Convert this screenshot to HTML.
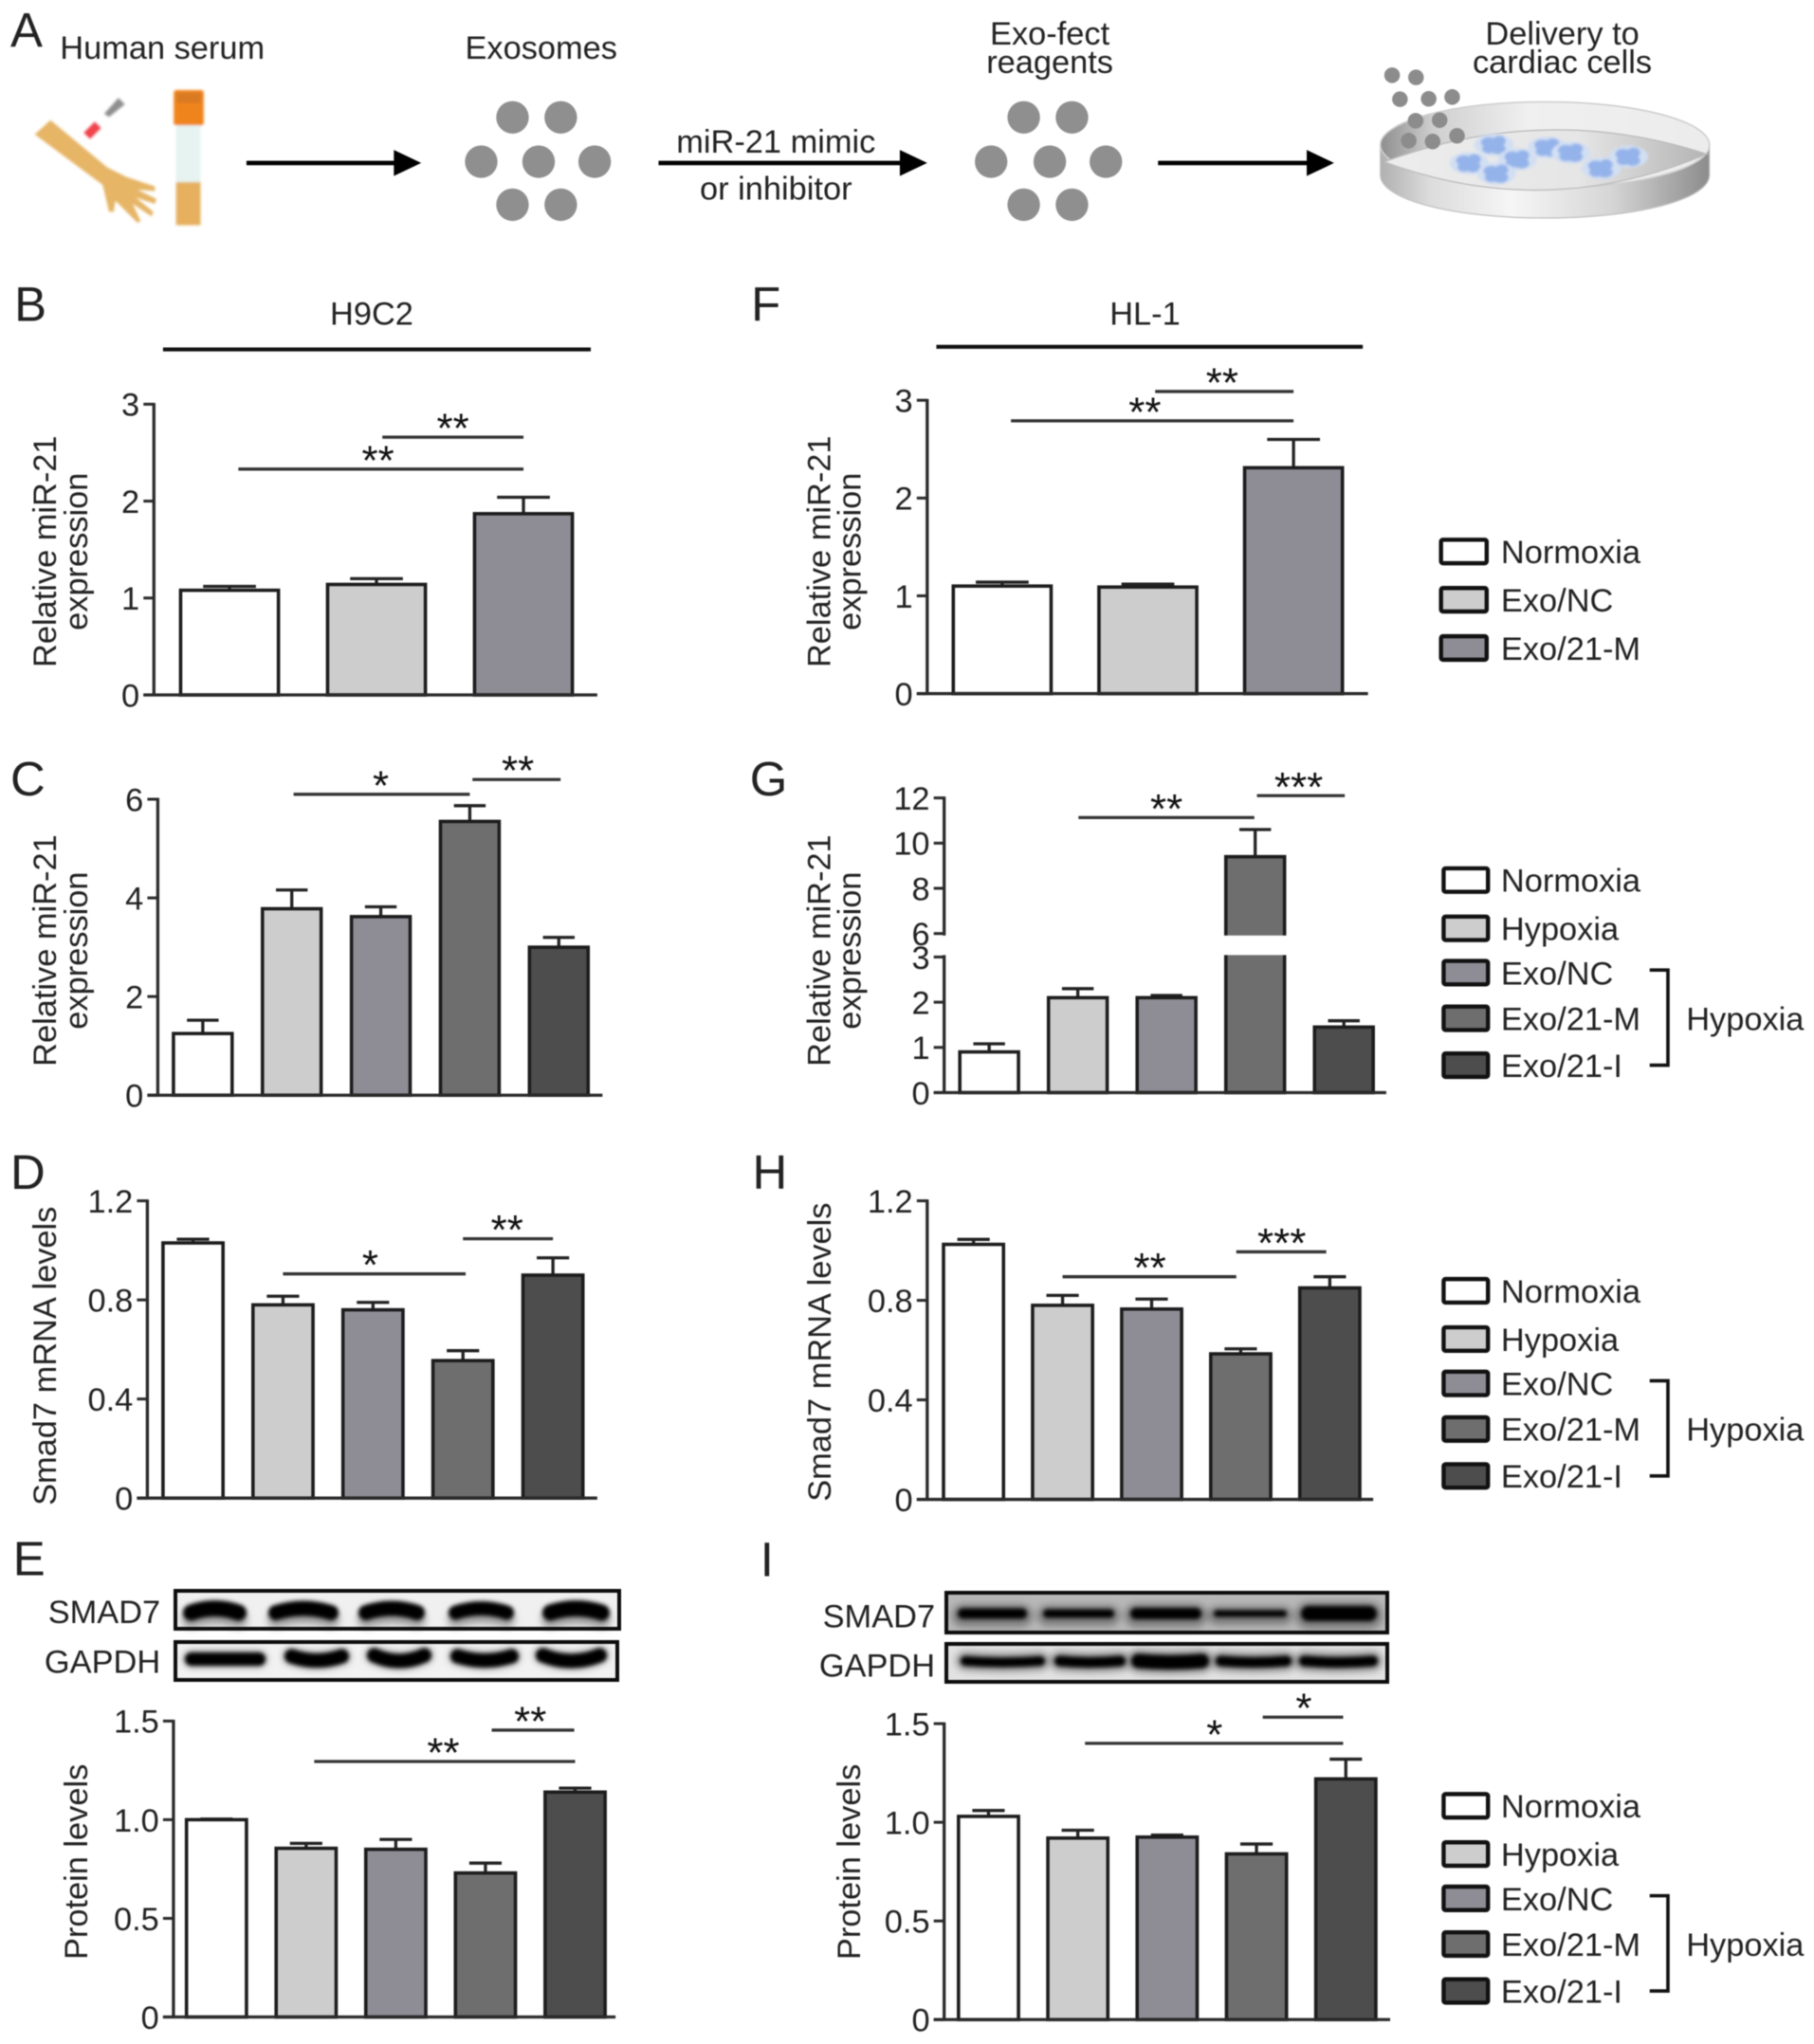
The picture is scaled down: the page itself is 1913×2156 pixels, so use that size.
<!DOCTYPE html>
<html lang="en">
<head>
<meta charset="utf-8">
<title>Exosome miR-21 figure</title>
<style>
html,body{margin:0;padding:0;background:#fff;}
svg{display:block;filter:blur(0.6px);}
text{font-family:"Liberation Sans",Arial,sans-serif;fill:#222;font-size:25px;}
</style>
</head>
<body>
<svg id="fig" xmlns="http://www.w3.org/2000/svg" width="1913" height="2156" viewBox="0 0 1391 1567.7">
<defs>
<linearGradient id="dishSide" x1="0" x2="1" y1="0" y2="0">
<stop offset="0" stop-color="#b0b0b0"/><stop offset="0.15" stop-color="#dcdcdc"/><stop offset="0.4" stop-color="#f6f6f6"/><stop offset="0.7" stop-color="#d6d6d6"/><stop offset="1" stop-color="#8c8c8c"/>
</linearGradient>
<linearGradient id="dishBack" x1="0" x2="1" y1="0" y2="0">
<stop offset="0" stop-color="#8e8e8e"/><stop offset="0.16" stop-color="#cfcfcf"/><stop offset="0.45" stop-color="#f0f0f0"/><stop offset="1" stop-color="#ececec"/>
</linearGradient>
<linearGradient id="dishFloor" x1="0" x2="1" y1="0" y2="0">
<stop offset="0" stop-color="#ededed"/><stop offset="0.6" stop-color="#e6e6e6"/><stop offset="1" stop-color="#b4b4b4"/>
</linearGradient>
<filter id="bandBlur" filterUnits="userSpaceOnUse" x="0" y="1600" width="1913" height="300"><feGaussianBlur stdDeviation="2.2"/></filter>
<filter id="haloBlur" filterUnits="userSpaceOnUse" x="0" y="1600" width="1913" height="300"><feGaussianBlur stdDeviation="4"/></filter>
<filter id="softBlur" x="-20%" y="-20%" width="140%" height="140%"><feGaussianBlur stdDeviation="0.9"/></filter>
</defs>
<rect x="0" y="0" width="1391" height="1567.7" fill="#fff"/>

<g id="schematic">
<text x="46" y="45">Human serum</text>
<text x="415" y="45" text-anchor="middle">Exosomes</text>
<text x="805" y="34" text-anchor="middle">Exo-fect</text>
<text x="805" y="56" text-anchor="middle">reagents</text>
<text x="1198" y="34" text-anchor="middle">Delivery to</text>
<text x="1198" y="56" text-anchor="middle">cardiac cells</text>
<text x="595" y="117" text-anchor="middle">miR-21 mimic</text>
<text x="595" y="153" text-anchor="middle">or inhibitor</text>

<g transform="scale(1.0014)">
<g filter="url(#softBlur)">
<path d="M26.6 102.9 L38.7 92 L82.3 128.3 L96.8 135.5 L118.6 142.8 L118.6 146.4 L105.3 145.2 L119.8 152.5 L118.6 156.1 L104 151.3 L117.4 162.2 L116.1 165.8 L101.6 156.1 L107.7 169.4 L105.3 170.6 L88.3 153.7 L87.1 162.2 L83.5 162.2 L78.6 141.6 Z" fill="#e6b566"/>
<path d="M64.1 101.7 L72.6 93.2 L77.4 98 L69 106.5 Z" fill="#f0444c"/>
<path d="M79.8 87.1 L90.7 75 L95.6 79.9 L83.5 89.6 Z" fill="#8f8f8f"/>
</g>
<g filter="url(#softBlur)">
<rect x="133" y="69" width="23" height="27" rx="2" fill="#f0841a"/>
<rect x="135" y="71" width="19" height="8" fill="#d97a20"/>
<rect x="134.8" y="96" width="18.8" height="43.5" fill="#e6f3f1"/>
<rect x="134.8" y="139.5" width="18.8" height="33" fill="#e6b05e"/>
</g>
</g>

<g>
<line x1="189" y1="125" x2="304" y2="125" stroke="#000" stroke-width="3.4"/>
<path d="M302 115 L323 125 L302 135 Z" fill="#000"/>
</g>
<g>
<line x1="505" y1="125" x2="692" y2="125" stroke="#000" stroke-width="3.4"/>
<path d="M690 115 L711 125 L690 135 Z" fill="#000"/>
</g>
<g>
<line x1="888" y1="125" x2="1004" y2="125" stroke="#000" stroke-width="3.4"/>
<path d="M1002 115 L1023 125 L1002 135 Z" fill="#000"/>
</g>

<g fill="#8f8f8f">
<circle cx="393" cy="90" r="12.5"/><circle cx="430" cy="90" r="12.5"/>
<circle cx="369" cy="124" r="12.5"/><circle cx="413" cy="124" r="12.5"/><circle cx="456" cy="124" r="12.5"/>
<circle cx="393" cy="157" r="12.5"/><circle cx="430" cy="157" r="12.5"/>
</g>
<g fill="#8f8f8f">
<circle cx="785" cy="90" r="12.5"/><circle cx="822" cy="90" r="12.5"/>
<circle cx="760" cy="124" r="12.5"/><circle cx="805" cy="124" r="12.5"/><circle cx="848" cy="124" r="12.5"/>
<circle cx="785" cy="157" r="12.5"/><circle cx="822" cy="157" r="12.5"/>
</g>

<g transform="scale(1.0014)">
<g>
<path d="M1057 111 L1057 134 C1057 153 1113 167 1183 167 C1253 167 1309 153 1309 134 L1309 111 Z" fill="url(#dishSide)" stroke="#c4c4c4" stroke-width="1"/>
<ellipse cx="1183" cy="111" rx="126" ry="33" fill="url(#dishBack)" stroke="#cfcfcf" stroke-width="1.2"/>
<path d="M1060 124 Q1183 78 1307 118 Q1183 170 1060 124 Z" fill="url(#dishFloor)" stroke="#bdbdbd" stroke-width="1"/>
<g id="cells" filter="url(#softBlur)"></g>
</g>
<g fill="#8c8c8c">
<circle cx="1066" cy="57.6" r="6"/><circle cx="1084.3" cy="59.3" r="6"/>
<circle cx="1072" cy="76" r="6"/><circle cx="1094" cy="75.7" r="6"/><circle cx="1112" cy="74.3" r="6"/>
<circle cx="1084" cy="92.5" r="6"/><circle cx="1102.4" cy="92" r="6"/>
<circle cx="1078.7" cy="107.7" r="6"/><circle cx="1097" cy="108.4" r="6"/><circle cx="1115.7" cy="104" r="6"/>
</g>
</g>
</g>

<g>
<text x="8" y="36" style="font-size:37px">A</text>
<text x="11" y="246" style="font-size:37px">B</text>
<text x="8" y="610" style="font-size:37px">C</text>
<text x="8" y="912" style="font-size:37px">D</text>
<text x="10" y="1208" style="font-size:37px">E</text>
<text x="576" y="246" style="font-size:37px">F</text>
<text x="575" y="610" style="font-size:37px">G</text>
<text x="577" y="912" style="font-size:37px">H</text>
<text x="583" y="1209" style="font-size:37px">I</text>
</g>

<g>
<text x="285" y="249" text-anchor="middle">H9C2</text>
<line x1="125" y1="268" x2="453" y2="268" stroke="#111" stroke-width="3"/>
</g>
<g>
<text x="878" y="249" text-anchor="middle">HL-1</text>
<line x1="718" y1="266" x2="1045" y2="266" stroke="#111" stroke-width="3"/>
</g>

<text x="123" y="1245" text-anchor="end">SMAD7</text>
<text x="123" y="1283" text-anchor="end">GAPDH</text>
<text x="717" y="1248" text-anchor="end">SMAD7</text>
<text x="717" y="1286" text-anchor="end">GAPDH</text>
<g id="blots" transform="scale(0.72713)"></g>

<g id="charts"></g>
<g id="legends"></g>
</svg>

<script>
// ---- Categories ----
const categoriesThree = ['Normoxia', 'Exo/NC', 'Exo/21-M'];
const categoriesFive = ['Normoxia', 'Hypoxia', 'Exo/NC', 'Exo/21-M', 'Exo/21-I'];
const hypoxiaGroupLabel = 'Hypoxia';

// ---- Series values and error bars ----
const valuesB = [1.08, 1.14, 1.87];
const errorsB = [0.04, 0.06, 0.17];
const valuesF = [1.10, 1.09, 2.31];
const errorsF = [0.04, 0.03, 0.29];
const valuesC = [1.25, 3.78, 3.62, 5.55, 3.00];
const errorsC = [0.27, 0.38, 0.20, 0.32, 0.20];
const valuesG = [0.90, 2.10, 2.10, 9.40, 1.45];
const errorsG = [0.18, 0.20, 0.05, 1.20, 0.14];
const valuesD = [1.03, 0.78, 0.76, 0.555, 0.90];
const errorsD = [0.015, 0.035, 0.03, 0.04, 0.07];
const valuesH = [1.025, 0.78, 0.765, 0.585, 0.85];
const errorsH = [0.02, 0.04, 0.04, 0.02, 0.045];
const valuesE = [1.00, 0.855, 0.85, 0.73, 1.14];
const errorsE = [0.003, 0.025, 0.05, 0.05, 0.02];
const valuesI = [1.03, 0.92, 0.925, 0.84, 1.22];
const errorsI = [0.03, 0.04, 0.01, 0.05, 0.10];

// ---- Tick labels ----
const ticksExpression3 = [0, 1, 2, 3];
const ticksExpression6 = [0, 2, 4, 6];
const ticksBroken = [0, 1, 2, 3, 6, 8, 10, 12];
const ticksMrna = [0, 0.4, 0.8, 1.2];
const ticksMrnaLabels = ['0', '0.4', '0.8', '1.2'];
const ticksProtein = [0, 0.5, 1.0, 1.5];
const ticksProteinLabels = ['0', '0.5', '1.0', '1.5'];

// ---- Significance brackets: [from category, to category, axis value, stars, star category] ----
const sigB = [[0.06, 2, 2.33, '**', 1.01], [1.04, 2, 2.66, '**', 1.52]];
const sigF = [[0.06, 2, 2.79, '**', 0.98], [1.05, 2, 3.09, '**', 1.51]];
const sigC = [[1.02, 3, 6.10, '*', 2.0], [3.03, 4.02, 6.40, '**', 3.54]];
const sigG = [[1.007, 2.99, 11.13, '**', 2.0], [3.02, 4.01, 12.1, '***', 3.49]];
const sigD = [[1.0, 3.03, 0.905, '*', 1.97], [3.0, 4.0, 1.047, '**', 3.49]];
const sigH = [[1.0, 2.95, 0.895, '**', 1.98], [2.95, 3.96, 0.995, '***', 3.46]];
const sigE = [[1.09, 4.0, 1.295, '**', 2.53], [3.07, 3.99, 1.454, '**', 3.5]];
const sigI = [[1.08, 3.97, 1.40, '*', 2.53], [3.07, 3.97, 1.533, '*', 3.53]];

const fillsThree = ['#ffffff', '#cdcdcd', '#8e8d96'];
const fillsFive = ['#ffffff', '#cdcdcd', '#8e8d96', '#6e6e6e', '#4d4d4d'];
const NS = 'http://www.w3.org/2000/svg';

function mk(parent, tag, attrs, txt) {
  const el = document.createElementNS(NS, tag);
  for (const k in attrs) el.setAttribute(k, attrs[k]);
  if (txt !== undefined) el.textContent = txt;
  parent.appendChild(el);
  return el;
}

function linearY(domainMax, yBottom, yTop) {
  return v => yBottom - (v / domainMax) * (yBottom - yTop);
}
function brokenY(lowMax, upLow, upHigh, yBottom, yLowTop, yUpLow, yUpTop) {
  return v => v <= lowMax
    ? yBottom - (v / lowMax) * (yBottom - yLowTop)
    : yUpLow - ((v - upLow) / (upHigh - upLow)) * (yUpLow - yUpTop);
}

// ---- Decorative cardiac cell blobs in the dish ----
const cellSpots = [[1125, 125], [1144, 111], [1162, 122], [1146, 133], [1185, 113], [1203, 117], [1226, 129], [1247, 120]];
const cellLobes = [[-4, -2, 6, 4], [4, -3, 5, 4], [3, 3, 6, 4], [-4, 3, 5, 3.5], [0, 0, 5, 4]];
const cellsRoot = document.getElementById('cells');
cellSpots.forEach(s => {
  const cell = mk(cellsRoot, 'g', {});
  
  
  mk(cell, 'ellipse', { cx: s[0], cy: s[1], rx: 15, ry: 8.5, fill: '#d2dff3' });
  cellLobes.forEach(l => {
    mk(cell, 'ellipse', { cx: s[0] + l[0], cy: s[1] + l[1], rx: l[2], ry: l[3], fill: '#94b3ea' });
  });
});

// ---- Western blot drawing (decorative image bands, not chart data) ----
const blotStrips = [
  { name: 'blot-smad7-e', box: [185, 1678, 468, 40], bg: '#f0f0f0', halo: '#999', haloDy: 7, haloExtra: 2,
    bands: [[193, 260, 17, 3], [283, 357, 16, 3], [378, 448, 16, 3], [473, 542, 15, 3], [572, 643, 17, 3]], yc: 1698 },
  { name: 'blot-gapdh-e', box: [185, 1732, 466, 40], bg: '#f2f2f2', halo: '#aaa', haloDy: 0, haloExtra: 4,
    bands: [[195, 280, 14, 0], [300, 368, 15, -3], [387, 455, 15, -4], [475, 547, 15, -3], [565, 640, 15, -4]], yc: 1750 },
  { name: 'blot-smad7-i', box: [998, 1680, 465, 42], bg: '#b8b8b8', halo: '#777', haloDy: 2, haloExtra: 12,
    bands: [[1010, 1083, 11, 0], [1100, 1175, 9, 0], [1192, 1267, 12, 0], [1280, 1357, 7, 0], [1372, 1452, 16, 0]], yc: 1702 },
  { name: 'blot-gapdh-i', box: [998, 1734, 465, 40], bg: '#e2e2e2', halo: '#888', haloDy: 0, haloExtra: 9,
    bands: [[1013, 1102, 10, -1], [1112, 1187, 11, -1], [1193, 1275, 15, -1], [1282, 1362, 11, -1], [1370, 1453, 11, -1]], yc: 1753 }
];
const blotsRoot = document.getElementById('blots');
blotStrips.forEach(s => {
  const g = mk(blotsRoot, 'g', {});
  
  
  mk(g, 'rect', { x: s.box[0], y: s.box[1], width: s.box[2], height: s.box[3], fill: s.bg });
  const halos = mk(g, 'g', { filter: 'url(#haloBlur)' });
  const bands = mk(g, 'g', { filter: 'url(#bandBlur)' });
  s.bands.forEach(b => {
    const p = (dy) => 'M' + (b[0] + b[2] / 2) + ' ' + (s.yc + b[3] + dy) + ' Q' + ((b[0] + b[1]) / 2) + ' ' + (s.yc - b[3] * 2 + dy) + ' ' + (b[1] - b[2] / 2) + ' ' + (s.yc + b[3] + dy);
    mk(halos, 'path', { d: p(s.haloDy), fill: 'none', stroke: s.halo, 'stroke-width': b[2] + s.haloExtra, 'stroke-linecap': 'round' });
    const band = mk(bands, 'path', { d: p(0), fill: 'none', stroke: '#060606', 'stroke-width': b[2], 'stroke-linecap': 'round' });
    
    
  });
  mk(g, 'rect', { x: s.box[0], y: s.box[1], width: s.box[2], height: s.box[3], fill: 'none', stroke: '#0c0c0c', 'stroke-width': 4 });
});

const chartConfigs = [
  { id: 'b', cats: categoriesThree, fills: fillsThree, vals: valuesB, errs: errorsB, ticks: ticksExpression3, tickLabels: ticksExpression3,
    sig: sigB, axisX: 118, xEnd: 458, first: 176, step: 112.7, bw: 75,
    y: linearY(3, 533, 310), top: 3, titleLines: ['Relative miR-21', 'expression'], titleX: [43, 67], titleY: 423 },
  { id: 'f', cats: categoriesThree, fills: fillsThree, vals: valuesF, errs: errorsF, ticks: ticksExpression3, tickLabels: ticksExpression3,
    sig: sigF, axisX: 711, xEnd: 1049, first: 768.5, step: 111.7, bw: 75,
    y: linearY(3, 532, 307), top: 3, titleLines: ['Relative miR-21', 'expression'], titleX: [636.5, 660], titleY: 423 },
  { id: 'c', cats: categoriesFive, fills: fillsFive, vals: valuesC, errs: errorsC, ticks: ticksExpression6, tickLabels: ticksExpression6,
    sig: sigC, axisX: 121, xEnd: 462, first: 155.5, step: 68.25, bw: 45,
    y: linearY(6, 840, 613), top: 6, titleLines: ['Relative miR-21', 'expression'], titleX: [43, 67], titleY: 729 },
  { id: 'g', cats: categoriesFive, fills: fillsFive, vals: valuesG, errs: errorsG, ticks: ticksBroken, tickLabels: ticksBroken,
    sig: sigG, axisX: 724, xEnd: 1063, first: 758.5, step: 68, bw: 45,
    y: brokenY(3, 6, 12, 838, 734, 716, 612), top: 12, broken: [3, 6], titleLines: ['Relative miR-21', 'expression'], titleX: [636.5, 660], titleY: 729 },
  { id: 'd', cats: categoriesFive, fills: fillsFive, vals: valuesD, errs: errorsD, ticks: ticksMrna, tickLabels: ticksMrnaLabels,
    sig: sigD, axisX: 113, xEnd: 458, first: 148, step: 69, bw: 46,
    y: linearY(1.2, 1149, 921), top: 1.2, titleLines: ['Smad7 mRNA levels'], titleX: [43], titleY: 1040 },
  { id: 'h', cats: categoriesFive, fills: fillsFive, vals: valuesH, errs: errorsH, ticks: ticksMrna, tickLabels: ticksMrnaLabels,
    sig: sigH, axisX: 711, xEnd: 1053, first: 746.5, step: 68.3, bw: 46,
    y: linearY(1.2, 1150, 921), top: 1.2, titleLines: ['Smad7 mRNA levels'], titleX: [637], titleY: 1037 },
  { id: 'e', cats: categoriesFive, fills: fillsFive, vals: valuesE, errs: errorsE, ticks: ticksProtein, tickLabels: ticksProteinLabels,
    sig: sigE, axisX: 133, xEnd: 472, first: 166, step: 68.75, bw: 46,
    y: linearY(1.5, 1547, 1320), top: 1.5, titleLines: ['Protein levels'], titleX: [67], titleY: 1428 },
  { id: 'i', cats: categoriesFive, fills: fillsFive, vals: valuesI, errs: errorsI, ticks: ticksProtein, tickLabels: ticksProteinLabels,
    sig: sigI, axisX: 724, xEnd: 1066, first: 758, step: 68.5, bw: 46,
    y: linearY(1.5, 1549, 1322), top: 1.5, titleLines: ['Protein levels'], titleX: [659.5], titleY: 1428 }
];

const chartsRoot = document.getElementById('charts');
chartConfigs.forEach(c => {
  const g = mk(chartsRoot, 'g', {});
  
  
  const base = c.y(0);
  const catX = i => c.first + c.step * i;

  // bars and error bars
  c.vals.forEach((v, i) => {
    const cx = catX(i), yv = c.y(v), yErr = c.y(v + c.errs[i]);
    const errLine = mk(g, 'line', { x1: cx, x2: cx, y1: yv, y2: yErr, stroke: '#222', 'stroke-width': 2.4 });
    
    
    const cap = mk(g, 'line', { x1: cx - c.bw * 0.27, x2: cx + c.bw * 0.27, y1: yErr, y2: yErr, stroke: '#222', 'stroke-width': 2.4 });
    
    
    const bar = mk(g, 'rect', { x: cx - c.bw / 2, y: yv, width: c.bw, height: base - yv, fill: c.fills[i], stroke: '#1c1c1c', 'stroke-width': 2.6 });
    
    
  });

  // y axis
  const yAxis = mk(g, 'line', { x1: c.axisX, x2: c.axisX, y1: c.y(c.top) - 1, y2: base, stroke: '#2a2a2a', 'stroke-width': 2.4 });
  
  
  const xAxis = mk(g, 'line', { x1: c.axisX - 8, x2: c.xEnd, y1: base, y2: base, stroke: '#2a2a2a', 'stroke-width': 2.4 });
  
  

  // axis break
  if (c.broken) {
    const gap = mk(g, 'rect', { x: c.axisX - 2, y: c.y(c.broken[1]) + 1.5, width: c.first + c.step * 4 + c.bw - c.axisX, height: c.y(c.broken[0]) - c.y(c.broken[1]) - 3, fill: '#fff' });
    
    
  }

  // ticks
  c.ticks.forEach((t, i) => {
    const ty = c.y(t);
    const tick = mk(g, 'line', { x1: c.axisX - 8, x2: c.axisX, y1: ty, y2: ty, stroke: '#2a2a2a', 'stroke-width': 2.2 });
    
    
    const label = mk(g, 'text', { x: c.axisX - 11, y: ty + 9, 'text-anchor': 'end' }, String(c.tickLabels[i]));
    
    
  });

  // y title
  c.titleLines.forEach((line, i) => {
    const t = mk(g, 'text', { x: c.titleX[i], y: c.titleY, 'text-anchor': 'middle', transform: 'rotate(-90 ' + c.titleX[i] + ' ' + c.titleY + ')' }, line);
    
    
  });

  // significance brackets
  c.sig.forEach(s => {
    const yb = c.y(s[2]);
    const br = mk(g, 'line', { x1: catX(s[0]), x2: catX(s[1]), y1: yb, y2: yb, stroke: '#333', 'stroke-width': 2.4 });
    
    
    const st = mk(g, 'text', { x: catX(s[4]), y: yb + 4, 'text-anchor': 'middle', style: 'font-size:32px;fill:#111' }, s[3]);
    
    
  });
});

// ---- Legends ----
const legendConfigs = [
  { id: 'three-group', cats: categoriesThree, fills: fillsThree, x: 1105, sw: 35, textX: 1151, ys: [423, 460, 497] },
  { id: 'g', cats: categoriesFive, fills: fillsFive, x: 1107, sw: 34, textX: 1151, ys: [675, 712, 746, 781, 817], bracket: true },
  { id: 'h', cats: categoriesFive, fills: fillsFive, x: 1107, sw: 34, textX: 1151, ys: [990, 1027, 1061, 1096, 1132], bracket: true },
  { id: 'i', cats: categoriesFive, fills: fillsFive, x: 1107, sw: 34, textX: 1151, ys: [1385, 1422, 1456, 1491, 1527], bracket: true }
];
const legendsRoot = document.getElementById('legends');
legendConfigs.forEach(l => {
  const g = mk(legendsRoot, 'g', {});
  
  
  l.cats.forEach((cat, i) => {
    const yc = l.ys[i];
    const sw = mk(g, 'rect', { x: l.x, y: yc - 9, width: l.sw, height: 18, fill: l.fills[i], stroke: '#111', 'stroke-width': 3.2, rx: 1.5 });
    
    
    const t = mk(g, 'text', { x: l.textX, y: yc + 9 }, cat);
    
    
  });
  if (l.bracket) {
    const yTop = l.ys[2] - 2, yBot = l.ys[4];
    const p = mk(g, 'path', { d: 'M1265 ' + yTop + ' H1279 V' + yBot + ' H1265', fill: 'none', stroke: '#111', 'stroke-width': 2.6 });
    
    
    const t = mk(g, 'text', { x: 1293, y: l.ys[3] + 9 }, hypoxiaGroupLabel);
    
    
  }
});
</script>
</body>
</html>
